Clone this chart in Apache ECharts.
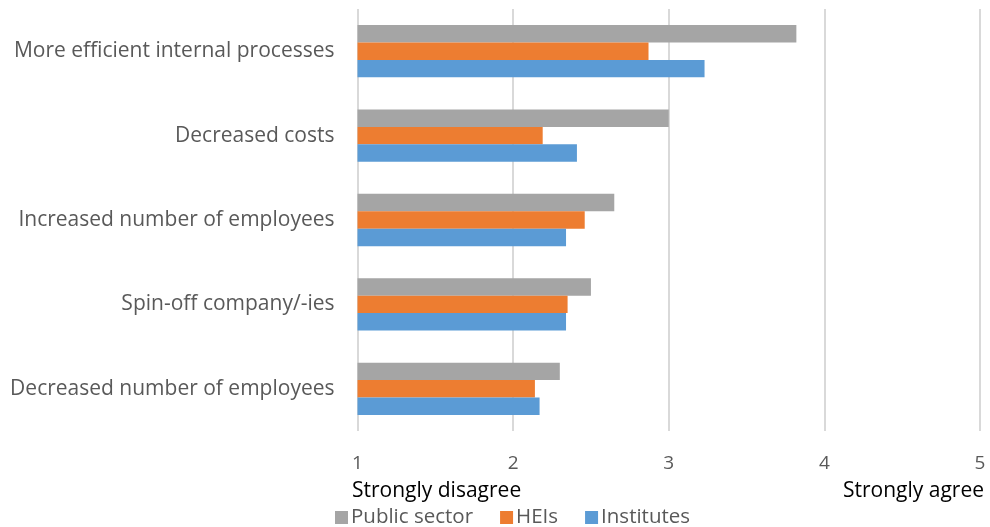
<!DOCTYPE html>
<html>
<head>
<meta charset="utf-8">
<script src="https://cdn.jsdelivr.net/npm/echarts@6/dist/echarts.min.js"></script>
<style>
  html, body { margin: 0; padding: 0; background: #fff; }
  #chart { width: 990px; height: 527px; }
</style>
</head>
<body>
<div id="chart"></div>
<script>
// Outcome categories, listed top to bottom
var categories = [
  'More efficient internal processes',
  'Decreased costs',
  'Increased number of employees',
  'Spin-off company/-ies',
  'Decreased number of employees'
];

// Mean agreement scores (1 = strongly disagree, 5 = strongly agree)
var publicSector = [3.82, 3.00, 2.65, 2.50, 2.30];
var heis         = [2.87, 2.19, 2.46, 2.35, 2.14];
var institutes   = [3.23, 2.41, 2.34, 2.34, 2.17];

var scaleTicks = [1, 2, 3, 4, 5];
var scaleEnds = ['Strongly disagree', 'Strongly agree'];

var FONT = '"Open Sans"';
var chart = echarts.init(document.getElementById('chart'), null, { renderer: 'canvas' });

function barSeries(name, values, color) {
  return {
    name: name,
    type: 'bar',
    data: values,
    barGap: '0%',
    barCategoryGap: '38%',
    itemStyle: { color: color },
    emphasis: { disabled: true },
    animation: false
  };
}

chart.setOption({
  animation: false,
  textStyle: { fontFamily: FONT },
  grid: { left: 357.5, right: 10, top: 9, bottom: 96, containLabel: false },
  xAxis: {
    type: 'value',
    min: scaleTicks[0],
    max: scaleTicks[scaleTicks.length - 1],
    interval: 1,
    axisLine: { show: false },
    axisTick: { show: false },
    axisLabel: { color: '#595959', fontSize: 19, fontFamily: FONT, margin: 23 },
    splitLine: { show: true, lineStyle: { color: '#d9d9d9', width: 2 } }
  },
  yAxis: {
    type: 'category',
    data: categories,
    inverse: true,
    axisLine: { show: false },
    axisTick: { show: false },
    axisLabel: { color: '#595959', fontSize: 21, fontFamily: FONT, margin: 23 }
  },
  legend: {
    data: ['Public sector', 'HEIs', 'Institutes'],
    left: 330,
    top: 502,
    itemWidth: 13,
    itemHeight: 13,
    itemGap: 27,
    icon: 'rect',
    textStyle: { color: '#595959', fontSize: 20.5, fontFamily: FONT, padding: [0, 0, 0, -2] }
  },
  graphic: [
    {
      type: 'text', left: 352, top: 481,
      style: { text: scaleEnds[0], fill: '#000', font: '21px ' + FONT }
    },
    {
      type: 'text', right: 6, top: 481,
      style: { text: scaleEnds[1], fill: '#000', font: '21px ' + FONT }
    }
  ],
  series: [
    barSeries('Public sector', publicSector, '#a5a5a5'),
    barSeries('HEIs', heis, '#ed7d31'),
    barSeries('Institutes', institutes, '#5b9bd5')
  ]
});
</script>
</body>
</html>
